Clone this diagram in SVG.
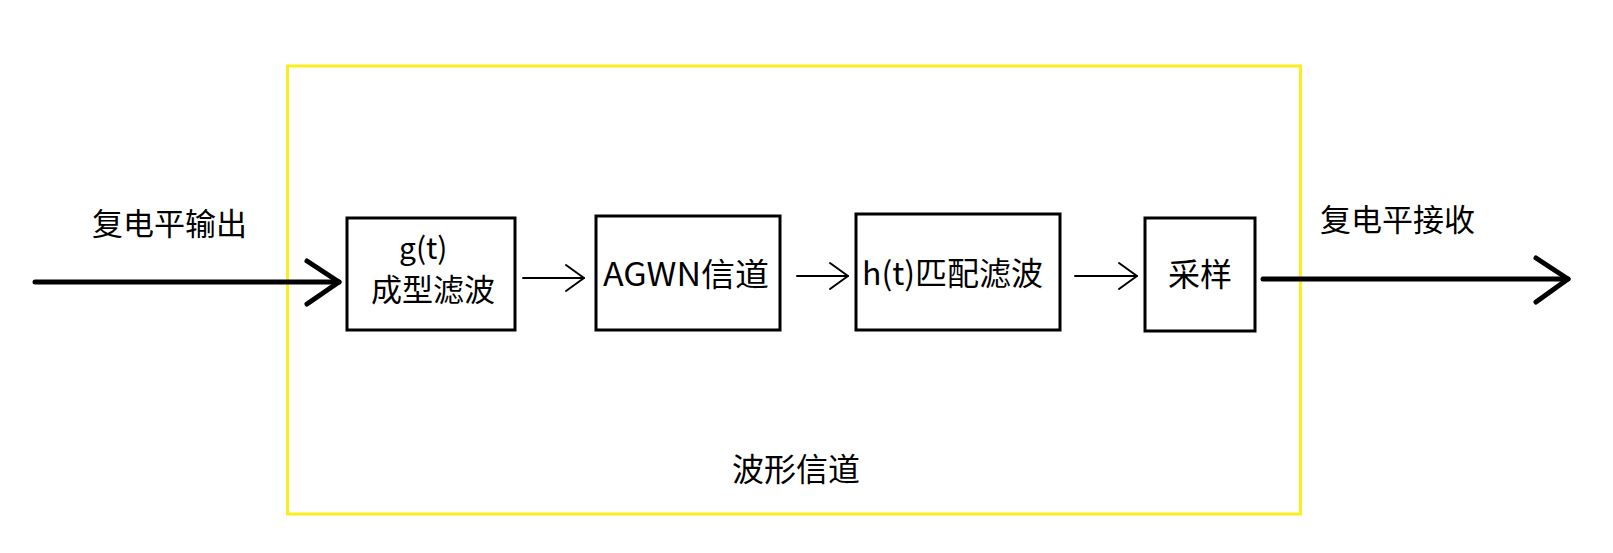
<svg xmlns="http://www.w3.org/2000/svg" width="1613" height="553" viewBox="0 0 1613 553">
<style>
.box{fill:none;stroke:#000;stroke-width:3}
.t{font-family:"Noto Sans CJK SC","Noto Sans",sans-serif;fill:#000}
.thick{fill:none;stroke:#000;stroke-width:5;stroke-linecap:round;stroke-linejoin:round}
.thin{fill:none;stroke:#000;stroke-width:2;stroke-linecap:round;stroke-linejoin:round}
</style>
<rect width="1613" height="553" fill="#fff"/>
<g id="waveform-channel">
<rect x="287.5" y="66" width="1013" height="448" fill="none" stroke="#fbee1f" stroke-width="3"/>
<text class="t" x="732" y="481" font-size="32">波形信道</text>
</g>
<g id="label-out"><text class="t" x="92" y="235" font-size="31">复电平输出</text></g>
<g id="label-in"><text class="t" x="1320" y="231" font-size="31">复电平接收</text></g>
<g id="g-filter">
<rect class="box" x="347" y="218" width="168" height="112"/>
<text class="t" x="399" y="259" font-size="30">g(t)</text>
<text class="t" x="371" y="301" font-size="31">成型滤波</text>
</g>
<g id="agwn">
<rect class="box" x="596" y="216" width="184" height="114"/>
<text class="t" x="603" y="286" font-size="32" textLength="166" lengthAdjust="spacingAndGlyphs">AGWN信道</text>
</g>
<g id="h-filter">
<rect class="box" x="856" y="214" width="204" height="116"/>
<text class="t" x="862" y="285" font-size="32">h(t)匹配滤波</text>
</g>
<g id="sampler">
<rect class="box" x="1145" y="218" width="110" height="113"/>
<text class="t" x="1168" y="286" font-size="32">采样</text>
</g>
<g id="connectors">
<line class="thick" x1="35" y1="282" x2="339" y2="282"/>
<polyline class="thick" points="307,261 339,282 307,304"/>
<line class="thin" x1="523" y1="278" x2="584" y2="278"/>
<polyline class="thin" points="566,265 584,278 566,291"/>
<line class="thin" x1="797" y1="276" x2="848" y2="276"/>
<polyline class="thin" points="830,263 848,276 830,289"/>
<line class="thin" x1="1075" y1="276" x2="1137" y2="276"/>
<polyline class="thin" points="1119,263 1137,276 1119,289"/>
<line class="thick" x1="1263" y1="279" x2="1568" y2="279"/>
<polyline class="thick" points="1536,258 1568,279 1536,302"/>
</g>
</svg>
